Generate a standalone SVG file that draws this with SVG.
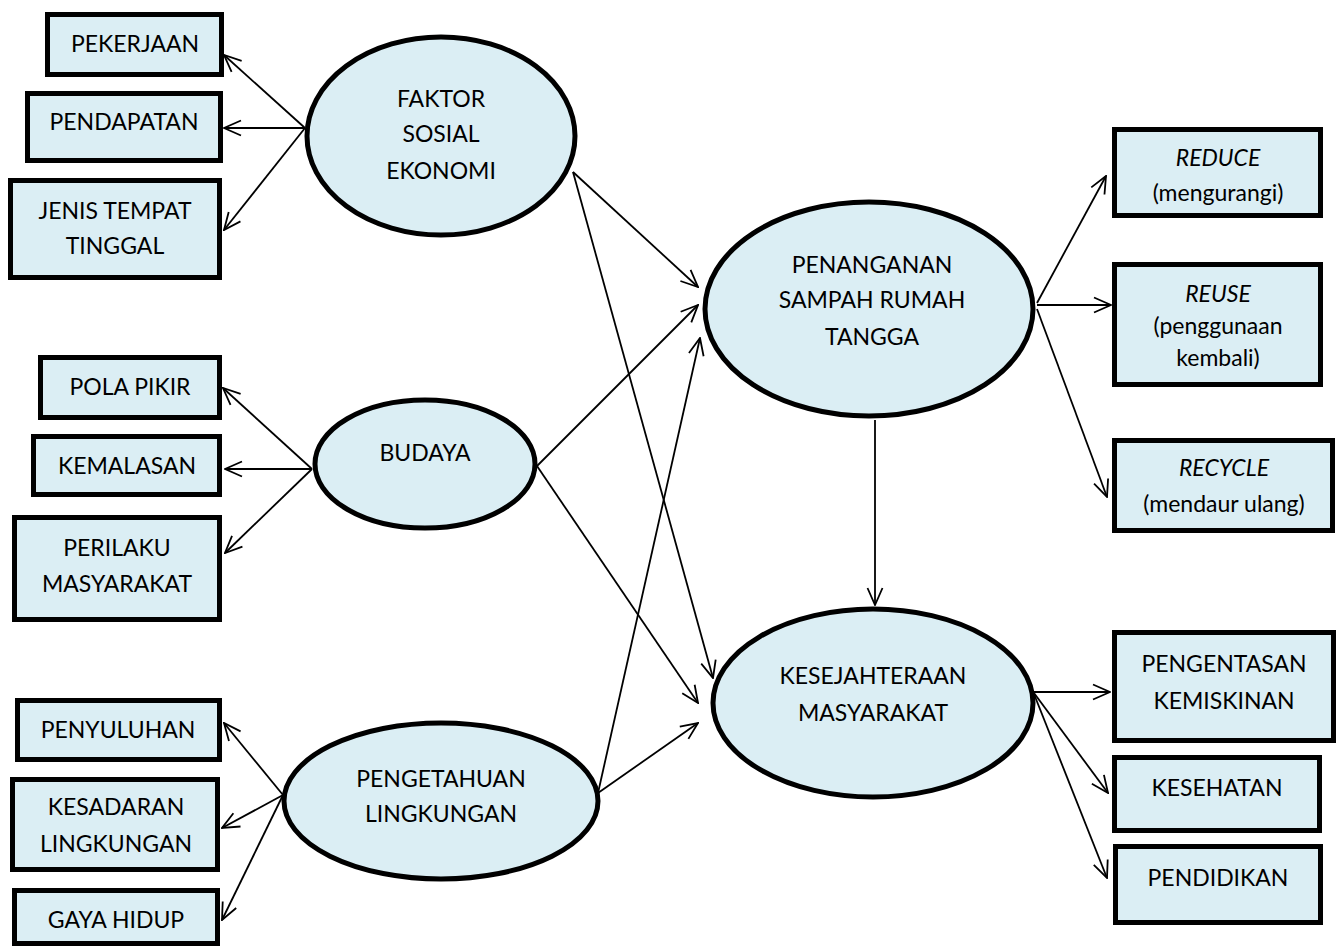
<svg xmlns="http://www.w3.org/2000/svg" width="1340" height="949" viewBox="0 0 1340 949">
  <defs>
    <style>
      .box { fill: #DBEEF4; stroke: #000; stroke-width: 5; }
      .oval { fill: #DBEEF4; stroke: #000; stroke-width: 5; }
      .lbl { font-family: Lato, "Open Sans", "Liberation Sans", sans-serif; font-size: 23px; fill: #000; text-anchor: middle; dominant-baseline: central; }
      .it { font-style: italic; }
      .edge { stroke: #000; stroke-width: 1.8; fill: none; marker-end: url(#open); }
    </style>
    <marker id="open" markerUnits="userSpaceOnUse" viewBox="0 0 20 20" refX="19" refY="10" markerWidth="20" markerHeight="20" orient="auto">
      <path d="M2,2.5 L19,10 L2,17.5" fill="none" stroke="#000" stroke-width="1.8"/>
    </marker>
  </defs>

  <!-- connectors -->
  <g id="connectors">
    <line class="edge" x1="305" y1="128" x2="224" y2="55"/>
    <line class="edge" x1="305" y1="128" x2="224" y2="128"/>
    <line class="edge" x1="305" y1="128" x2="224" y2="230"/>

    <line class="edge" x1="312" y1="469" x2="223" y2="388"/>
    <line class="edge" x1="312" y1="469" x2="225" y2="469"/>
    <line class="edge" x1="312" y1="469" x2="225" y2="553"/>

    <line class="edge" x1="283" y1="795" x2="224" y2="723"/>
    <line class="edge" x1="283" y1="795" x2="222" y2="828"/>
    <line class="edge" x1="283" y1="795" x2="222" y2="920"/>

    <line class="edge" x1="573" y1="172" x2="698" y2="287"/>
    <line class="edge" x1="573" y1="172" x2="713" y2="678"/>

    <line class="edge" x1="537" y1="466" x2="698" y2="305"/>
    <line class="edge" x1="537" y1="466" x2="698" y2="703"/>

    <line class="edge" x1="598" y1="793" x2="700" y2="338"/>
    <line class="edge" x1="598" y1="793" x2="698" y2="723"/>

    <line class="edge" x1="875" y1="420" x2="875" y2="605"/>

    <line class="edge" x1="1037" y1="303" x2="1106" y2="176"/>
    <line class="edge" x1="1037" y1="305" x2="1111" y2="305"/>
    <line class="edge" x1="1037" y1="309" x2="1107" y2="497"/>

    <line class="edge" x1="1034" y1="692" x2="1110" y2="692"/>
    <line class="edge" x1="1034" y1="693" x2="1108" y2="793"/>
    <line class="edge" x1="1034" y1="694" x2="1107" y2="878"/>
  </g>

  <!-- latent constructs -->
  <g id="faktor-sosial-ekonomi">
    <ellipse class="oval" cx="441" cy="136" rx="134" ry="99"/>
    <text class="lbl" x="441" y="98">FAKTOR</text>
    <text class="lbl" x="441" y="133">SOSIAL</text>
    <text class="lbl" x="441" y="170">EKONOMI</text>
  </g>
  <g id="budaya">
    <ellipse class="oval" cx="425" cy="464" rx="110" ry="64"/>
    <text class="lbl" x="425" y="452">BUDAYA</text>
  </g>
  <g id="pengetahuan-lingkungan">
    <ellipse class="oval" cx="441" cy="801" rx="157" ry="78"/>
    <text class="lbl" x="441" y="778">PENGETAHUAN</text>
    <text class="lbl" x="441" y="813">LINGKUNGAN</text>
  </g>
  <g id="penanganan-sampah">
    <ellipse class="oval" cx="869" cy="309" rx="164" ry="107"/>
    <text class="lbl" x="872" y="264">PENANGANAN</text>
    <text class="lbl" x="872" y="299">SAMPAH RUMAH</text>
    <text class="lbl" x="872" y="336">TANGGA</text>
  </g>
  <g id="kesejahteraan">
    <ellipse class="oval" cx="873" cy="703" rx="160" ry="94"/>
    <text class="lbl" x="873" y="675">KESEJAHTERAAN</text>
    <text class="lbl" x="873" y="712">MASYARAKAT</text>
  </g>

  <!-- indicators, left -->
  <g id="pekerjaan">
    <rect class="box" x="47.5" y="14.5" width="174" height="60"/>
    <text class="lbl" x="135" y="43">PEKERJAAN</text>
  </g>
  <g id="pendapatan">
    <rect class="box" x="27.5" y="93.5" width="193" height="67"/>
    <text class="lbl" x="124" y="121">PENDAPATAN</text>
  </g>
  <g id="jenis-tempat-tinggal">
    <rect class="box" x="10.5" y="180.5" width="209" height="97"/>
    <text class="lbl" x="115" y="210">JENIS TEMPAT</text>
    <text class="lbl" x="115" y="245">TINGGAL</text>
  </g>
  <g id="pola-pikir">
    <rect class="box" x="40.5" y="357.5" width="179" height="60"/>
    <text class="lbl" x="130" y="386">POLA PIKIR</text>
  </g>
  <g id="kemalasan">
    <rect class="box" x="33.5" y="436.5" width="186" height="58"/>
    <text class="lbl" x="127" y="465">KEMALASAN</text>
  </g>
  <g id="perilaku-masyarakat">
    <rect class="box" x="14.5" y="517.5" width="205" height="102"/>
    <text class="lbl" x="117" y="547">PERILAKU</text>
    <text class="lbl" x="117" y="583">MASYARAKAT</text>
  </g>
  <g id="penyuluhan">
    <rect class="box" x="17.5" y="700.5" width="202" height="59"/>
    <text class="lbl" x="118" y="729">PENYULUHAN</text>
  </g>
  <g id="kesadaran-lingkungan">
    <rect class="box" x="12.5" y="779.5" width="205" height="90"/>
    <text class="lbl" x="116" y="806">KESADARAN</text>
    <text class="lbl" x="116" y="843">LINGKUNGAN</text>
  </g>
  <g id="gaya-hidup">
    <rect class="box" x="14.5" y="890.5" width="203" height="53"/>
    <text class="lbl" x="116" y="919">GAYA HIDUP</text>
  </g>

  <!-- indicators, right -->
  <g id="reduce">
    <rect class="box" x="1114.5" y="129.5" width="206" height="86"/>
    <text class="lbl it" x="1218" y="157">REDUCE</text>
    <text class="lbl" x="1218" y="192">(mengurangi)</text>
  </g>
  <g id="reuse">
    <rect class="box" x="1114.5" y="264.5" width="206" height="120"/>
    <text class="lbl it" x="1218" y="293">REUSE</text>
    <text class="lbl" x="1218" y="325">(penggunaan</text>
    <text class="lbl" x="1218" y="357">kembali)</text>
  </g>
  <g id="recycle">
    <rect class="box" x="1114.5" y="440.5" width="218" height="90"/>
    <text class="lbl it" x="1224" y="467">RECYCLE</text>
    <text class="lbl" x="1224" y="503">(mendaur ulang)</text>
  </g>
  <g id="pengentasan-kemiskinan">
    <rect class="box" x="1114.5" y="632.5" width="219" height="108"/>
    <text class="lbl" x="1224" y="663">PENGENTASAN</text>
    <text class="lbl" x="1224" y="700">KEMISKINAN</text>
  </g>
  <g id="kesehatan">
    <rect class="box" x="1114.5" y="757.5" width="205" height="73"/>
    <text class="lbl" x="1217" y="787">KESEHATAN</text>
  </g>
  <g id="pendidikan">
    <rect class="box" x="1115.5" y="846.5" width="205" height="76"/>
    <text class="lbl" x="1218" y="877">PENDIDIKAN</text>
  </g>
</svg>
